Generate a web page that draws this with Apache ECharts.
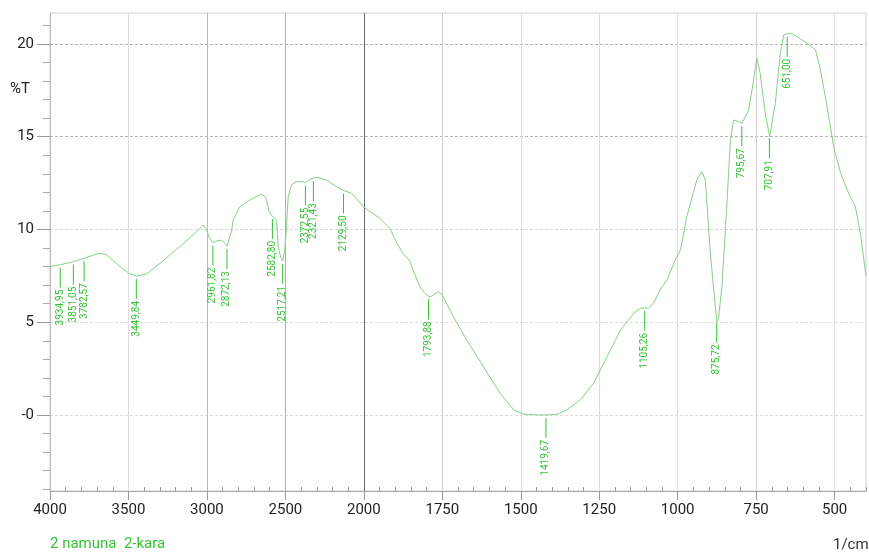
<!DOCTYPE html>
<html><head><meta charset="utf-8">
<script src="https://cdn.jsdelivr.net/npm/echarts@6/dist/echarts.min.js"></script>
<style>html,body{margin:0;padding:0;background:#fff}#c{width:869px;height:553px}</style>
</head><body><div id="c"></div>
<script>
const wavenumbers = [4000,3934,3851,3782,3720,3682,3639,3600,3554,3500,3449,3384,3299,3240,3172,3066,3024,3002,2985,2961,2935,2906,2885,2872,2855,2843,2833,2811,2790,2726,2652,2631,2620,2605,2590,2578,2556,2546,2530,2517,2505,2493,2482,2461,2429,2387,2372,2340,2302,2270,2238,2174,2129,2079,2040,2004,1949,1917,1896,1875,1853,1843,1821,1805,1793,1784,1763,1751,1715,1672,1619,1566,1522,1490,1448,1419,1385,1353,1310,1268,1225,1182,1140,1119,1105,1093,1077,1056,1034,1008,991,971,955,939,923,912,896,880,875,870,859,843,832,822,806,795,774,758,748,737,721,707,689,673,662,651,641,620,588,561,545,524,503,481,455,434,418,400];
const transmittance = [8.00,8.10,8.26,8.45,8.62,8.72,8.63,8.35,8.00,7.65,7.49,7.60,8.18,8.60,9.07,9.88,10.24,9.97,9.55,9.28,9.38,9.43,9.25,9.10,9.60,9.90,10.51,10.90,11.23,11.59,11.90,11.80,11.60,11.00,10.78,10.69,10.51,9.07,8.50,8.30,8.80,10.15,11.77,12.40,12.58,12.58,12.52,12.72,12.81,12.75,12.67,12.31,12.10,11.95,11.60,11.23,10.60,10.06,9.30,8.70,8.30,7.80,6.90,6.55,6.38,6.40,6.65,6.50,5.30,4.04,2.60,1.17,0.27,0.04,0.00,0.00,0.03,0.27,0.81,1.71,3.14,4.58,5.48,5.75,5.77,5.75,6.02,6.74,7.28,8.36,8.90,10.69,11.70,12.67,13.12,12.67,8.72,5.84,5.03,5.20,6.92,11.41,14.82,15.90,15.81,15.72,16.44,18.06,19.23,18.42,16.26,15.00,16.80,19.50,20.49,20.55,20.58,20.40,20.04,19.68,18.60,16.62,14.46,13.03,11.95,11.23,9.79,7.50];
const peakWavenumbers = [3934.95,3851.05,3782.57,3449.84,2961.82,2872.13,2582.80,2517.21,2372.55,2321.43,2129.50,1793.88,1419.67,1105.26,875.72,795.67,707.91,651.00];
const xTickLabels = [4000,3500,3000,2500,2000,1750,1500,1250,1000,750,500];
const yTickLabels = [0,5,10,15,20];
const yMinorTicks = [-4,-3,-2,-1,1,2,3,4,6,7,8,9,11,12,13,14,16,17,18,19,21];
const sampleName = '2 namuna  2-kara';
const xUnit = '1/cm';
const yUnit = '%T';

function toT(wn){ return wn >= 2000 ? (4000 - wn) / 500 : 4 + (2000 - wn) / 250; }
function fromT(t){ return t <= 4 ? 4000 - 500 * t : 2000 - 250 * (t - 4); }
function interp(wn){
  for (let i = 0; i < wavenumbers.length - 1; i++) {
    const a = wavenumbers[i], b = wavenumbers[i + 1];
    if (wn <= a && wn >= b) {
      const f = (a - wn) / (a - b);
      return transmittance[i] + f * (transmittance[i + 1] - transmittance[i]);
    }
  }
  return transmittance[transmittance.length - 1];
}
const lineData = wavenumbers.map((w, i) => [toT(w), transmittance[i]]);
const peakData = peakWavenumbers.map(w => [toT(w), interp(w)]);
const xMajor = xTickLabels.map(toT);
const xMinor = [];
for (let k = 1; k <= 52; k++) { if (k % 5 !== 0) xMinor.push(k * 0.2); }

const green = '#33c433';
const chart = echarts.init(document.getElementById('c'));
chart.setOption({
  animation: false,
  backgroundColor: '#fff',
  grid: { left: 50, top: 13, width: 816, height: 478, show: true, borderColor: '#d0d0d0', borderWidth: 1, outerBoundsMode: 'none' },
  xAxis: [{
    type: 'value', min: 0, max: 10.4, position: 'bottom',
    axisLine: { show: true, onZero: false, lineStyle: { color: '#aaa' } },
    axisTick: { show: true, inside: false, length: 9, customValues: xMajor, lineStyle: { color: '#999' } },
    axisLabel: { customValues: xMajor, margin: 12, color: '#222', fontSize: 15, fontFamily: 'Roboto',
      formatter: v => String(Math.round(fromT(v))) },
    splitLine: { show: true, lineStyle: { width: 1, color: ['#ddd','#ddd','#b8b8b8','#b0b0b0','#6a6a6a','#cfcfcf','#ddd','#ddd','#ddd','#d2d2d2','#ddd'] } }
  }, {
    type: 'value', min: 0, max: 10.4, position: 'bottom',
    axisLine: { show: false, onZero: false },
    axisTick: { show: true, inside: true, length: 4, customValues: xMinor, lineStyle: { color: '#999' } },
    axisLabel: { show: false },
    splitLine: { show: false }
  }],
  yAxis: [{
    type: 'value', min: -4.1, max: 21.67, position: 'left',
    axisLine: { show: true, onZero: false, lineStyle: { color: '#bbb' } },
    axisTick: { show: true, inside: false, length: 13, customValues: yTickLabels, lineStyle: { color: '#999' } },
    axisLabel: { customValues: yTickLabels, margin: 16, color: '#222', fontSize: 15, fontFamily: 'Roboto',
      formatter: v => v === 0 ? '-0' : String(v) },
    splitLine: { show: true, lineStyle: { type: [3, 2], width: 1, color: ['#dcdcdc','#dcdcdc','#d5d5d5','#b5b5b5','#b5b5b5'] } }
  }, {
    type: 'value', min: -4.1, max: 21.67, position: 'left',
    axisLine: { show: false, onZero: false },
    axisTick: { show: true, inside: false, length: 7, customValues: yMinorTicks, lineStyle: { color: '#aaa' } },
    axisLabel: { show: false },
    splitLine: { show: false }
  }],
  graphic: [
    { type: 'text', left: 10, top: 82, style: { text: yUnit, fill: '#222', font: '15px Roboto' } },
    { type: 'text', left: 50, top: 537, style: { text: sampleName, fill: green, font: '15px Roboto' } },
    { type: 'text', left: 833, top: 538, style: { text: xUnit, fill: '#333', font: '15px Roboto' } }
  ],
  series: [{
    type: 'line', xAxisIndex: 0, yAxisIndex: 0, data: lineData, showSymbol: false, smooth: false,
    lineStyle: { color: '#86cf86', width: 1 }, silent: true, z: 3
  }, {
    type: 'custom', xAxisIndex: 0, yAxisIndex: 0, data: peakData, z: 4, silent: true,
    renderItem: function (params, api) {
      const p = api.coord([api.value(0), api.value(1)]);
      const label = peakWavenumbers[params.dataIndex].toFixed(2).replace('.', ',');
      return { type: 'group', children: [
        { type: 'line', shape: { x1: p[0], y1: p[1] + 3, x2: p[0], y2: p[1] + 23 }, style: { stroke: green, lineWidth: 1 } },
        { type: 'text', x: p[0], y: p[1] + 25, rotation: Math.PI / 2,
          style: { text: label, align: 'right', verticalAlign: 'middle', fill: green, font: '10px Roboto' } }
      ] };
    }
  }]
});
</script></body></html>
